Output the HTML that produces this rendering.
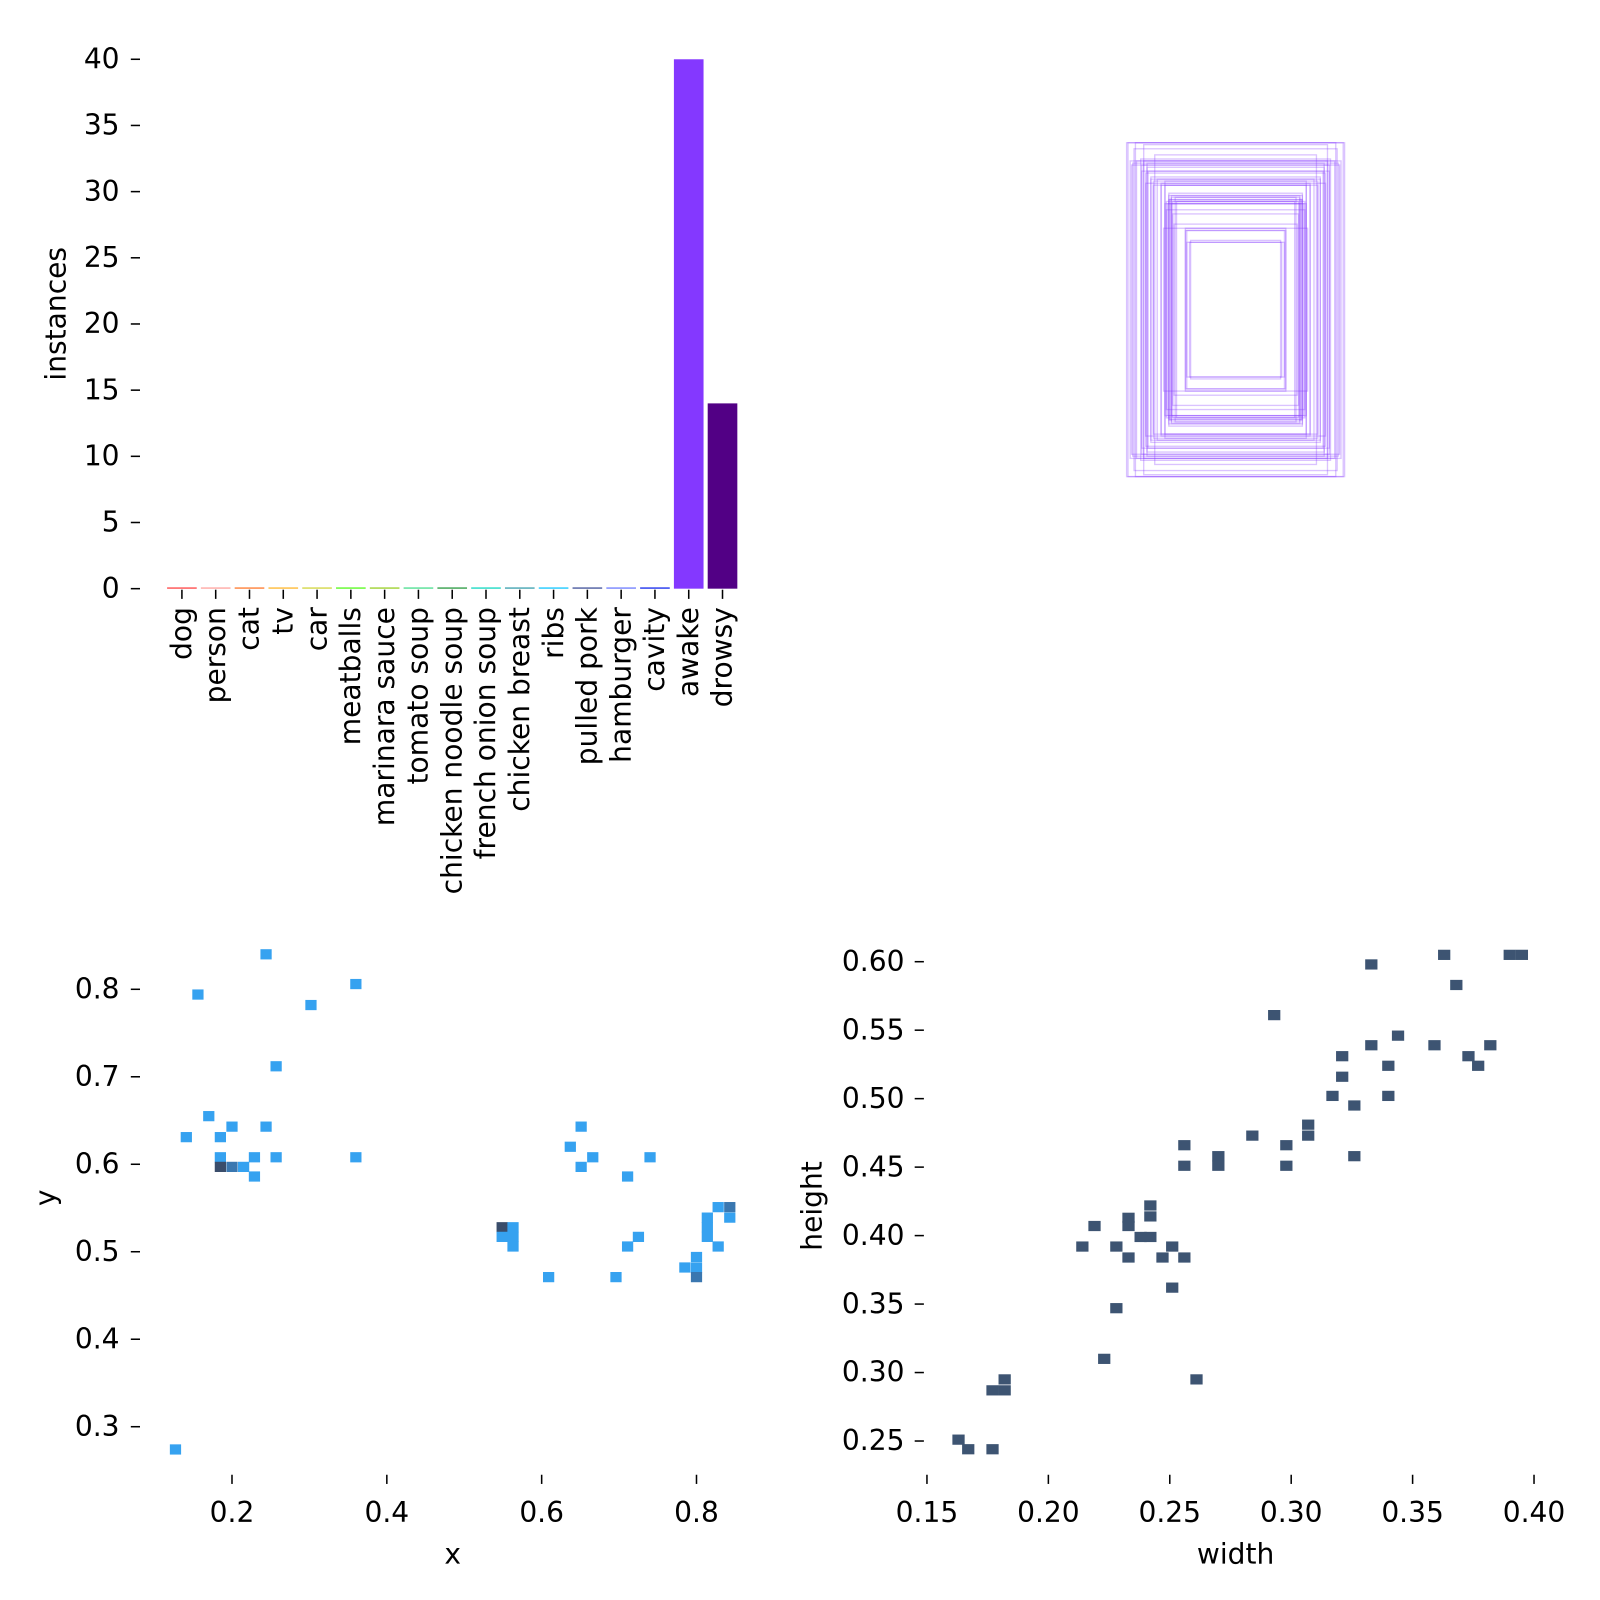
<!DOCTYPE html>
<html><head><meta charset="utf-8">
<style>
html,body{margin:0;padding:0;background:#fff;}
svg{display:block;font-family:"DejaVu Sans","Liberation Sans",sans-serif;}
</style></head>
<body>
<svg width="1600" height="1600" viewBox="0 0 1600 1600" xmlns="http://www.w3.org/2000/svg"><g id="chart" transform="scale(1.022)"></g></svg>
<script>
// ---- data ----
const categories = ["dog","person","cat","tv","car","meatballs","marinara sauce","tomato soup","chicken noodle soup","french onion soup","chicken breast","ribs","pulled pork","hamburger","cavity","awake","drowsy"];
const instanceCounts = [0,0,0,0,0,0,0,0,0,0,0,0,0,0,0,40,14];
const barColors = ["#ff3838","#ff9d97","#ff701f","#ffb21d","#cfd231","#48f90a","#92cc17","#3ddb86","#1a9334","#00d4bb","#2c99a8","#00c2ff","#344593","#6473ff","#0018ec","#8438ff","#520085"];
const instanceTicks = [0,5,10,15,20,25,30,35,40];

const xyX = [0.244,0.156,0.302,0.360,0.257,0.170,0.141,0.185,0.200,0.244,0.185,0.229,0.257,0.360,0.185,0.200,0.215,0.229,0.127,0.549,0.549,0.563,0.563,0.563,0.609,0.637,0.651,0.651,0.666,0.711,0.740,0.711,0.725,0.696,0.785,0.800,0.800,0.814,0.814,0.814,0.828,0.843,0.843,0.828,0.800];
const xyY = [0.840,0.794,0.782,0.806,0.712,0.655,0.631,0.631,0.643,0.643,0.608,0.608,0.608,0.608,0.597,0.597,0.597,0.586,0.274,0.528,0.517,0.528,0.517,0.506,0.471,0.620,0.643,0.597,0.608,0.586,0.608,0.506,0.517,0.471,0.482,0.482,0.471,0.539,0.528,0.517,0.551,0.551,0.539,0.506,0.494];
const xyCount = [1,1,1,1,1,1,1,1,1,1,1,1,1,1,3,2,1,1,1,3,1,1,1,1,1,1,1,1,1,1,1,1,1,1,1,1,2,1,1,1,1,2,1,1,1];
const xTicks = [0.2,0.4,0.6,0.8];
const yTicks = [0.3,0.4,0.5,0.6,0.7,0.8];

const whW = [0.363,0.333,0.390,0.395,0.368,0.293,0.344,0.333,0.321,0.359,0.382,0.373,0.377,0.321,0.340,0.317,0.326,0.340,0.307,0.307,0.284,0.298,0.326,0.256,0.256,0.270,0.270,0.298,0.233,0.233,0.219,0.214,0.228,0.233,0.238,0.242,0.242,0.242,0.247,0.251,0.256,0.251,0.228,0.223,0.261,0.177,0.182,0.182,0.163,0.167,0.177];
const whH = [0.605,0.598,0.605,0.605,0.583,0.561,0.546,0.539,0.531,0.539,0.539,0.531,0.524,0.516,0.524,0.502,0.495,0.502,0.481,0.473,0.473,0.466,0.458,0.466,0.451,0.458,0.451,0.451,0.413,0.407,0.407,0.392,0.392,0.384,0.399,0.399,0.422,0.414,0.384,0.392,0.384,0.362,0.347,0.310,0.295,0.287,0.287,0.295,0.251,0.244,0.244];
const wTicks = [0.15,0.20,0.25,0.30,0.35,0.40];
const hTicks = [0.25,0.30,0.35,0.40,0.45,0.50,0.55,0.60];

// ---- helpers ----
const svg = document.getElementById('chart');
const NS = "http://www.w3.org/2000/svg";
function mk(tag, attrs, parent){
  const e = document.createElementNS(NS, tag);
  for (const k in attrs) e.setAttribute(k, attrs[k]);
  (parent||svg).appendChild(e);
  return e;
}
function txt(s, x, y, anchor, parent, extra){
  const t = mk('text', Object.assign({x:x, y:y, 'font-size':27.5, fill:'#000', 'text-anchor':anchor}, extra||{}), parent);
  t.textContent = s;
  return t;
}

// ---- bar chart ----
const barY = v => 576 - v * 12.95;
const barX = i => 178 + i * 33.06;
const gBar = mk('g', {});


instanceTicks.forEach(v => {
  const y = barY(v);
  const tm = mk('line', {x1:128, x2:137, y1:y, y2:y, stroke:'#000', 'stroke-width':1.5}, gBar);
  
  
  const tl = txt(String(v), 117, y + 9, 'end', gBar);
  
  
});
categories.forEach((c, i) => {
  const cx = barX(i);
  const h = Math.max(instanceCounts[i] * 12.95, 1.2);
  const r = mk('rect', {x:cx - 14.5, y:576 - h, width:29, height:h, fill:barColors[i]}, gBar);
  
  
  const tm = mk('line', {x1:cx, x2:cx, y1:577, y2:586, stroke:'#000', 'stroke-width':1.5}, gBar);
  
  
  const tl = txt(c, 0, 0, 'end', gBar, {transform:'translate(' + (cx + 9) + ',594) rotate(-90)'});
  
  
});
const il = txt('instances', 0, 0, 'middle', gBar, {transform:'translate(64,307) rotate(-90)'});



// ---- boxes plot ----
const gBox = mk('g', {});


const boxScale = 540;
whW.forEach((w, i) => {
  const bw = w * boxScale, bh = whH[i] * boxScale;
  const r = mk('rect', {x:1209 - bw / 2, y:303 - bh / 2, width:bw, height:bh, fill:'none', stroke:'#8438ff', 'stroke-opacity':0.3, 'stroke-width':1.3}, gBox);
  
  
});

// ---- x/y histogram ----
const sx = v => 227 + (v - 0.2) * 757.5;
const sy = v => 968 - (v - 0.8) * 856;
const gXY = mk('g', {});


xyX.forEach((v, i) => {
  const col = xyCount[i] >= 3 ? '#3a4d6b' : (xyCount[i] == 2 ? '#3a77b0' : '#36a2f0');
  const r = mk('rect', {x:sx(v) - 5.5, y:sy(xyY[i]) - 5, width:11, height:10, fill:col}, gXY);
  
  
});
xTicks.forEach(v => {
  const x = sx(v);
  const tm = mk('line', {x1:x, x2:x, y1:1443, y2:1452, stroke:'#000', 'stroke-width':1.5}, gXY);
  
  
  const tl = txt(v.toFixed(1), x, 1489, 'middle', gXY);
  
  
});
yTicks.forEach(v => {
  const y = sy(v);
  const tm = mk('line', {x1:128, x2:137, y1:y, y2:y, stroke:'#000', 'stroke-width':1.5}, gXY);
  
  
  const tl = txt(v.toFixed(1), 117, y + 9, 'end', gXY);
  
  
});
const xl = txt('x', 443, 1530, 'middle', gXY);


const yl = txt('y', 0, 0, 'middle', gXY, {transform:'translate(54,1172) rotate(-90)'});



// ---- width/height histogram ----
const wx = v => 907 + (v - 0.15) * 2376;
const hy = v => 941 - (v - 0.60) * 1340;
const gWH = mk('g', {});


whW.forEach((v, i) => {
  const r = mk('rect', {x:wx(v) - 6, y:hy(whH[i]) - 5, width:12, height:10, fill:'#3d5472'}, gWH);
  
  
});
wTicks.forEach(v => {
  const x = wx(v);
  const tm = mk('line', {x1:x, x2:x, y1:1443, y2:1452, stroke:'#000', 'stroke-width':1.5}, gWH);
  
  
  const tl = txt(v.toFixed(2), x, 1489, 'middle', gWH);
  
  
});
hTicks.forEach(v => {
  const y = hy(v);
  const tm = mk('line', {x1:895, x2:904, y1:y, y2:y, stroke:'#000', 'stroke-width':1.5}, gWH);
  
  
  const tl = txt(v.toFixed(2), 885, y + 9, 'end', gWH);
  
  
});
const wl = txt('width', 1209, 1530, 'middle', gWH);


const hl = txt('height', 0, 0, 'middle', gWH, {transform:'translate(804,1180) rotate(-90)'});


</script>
</body></html>
